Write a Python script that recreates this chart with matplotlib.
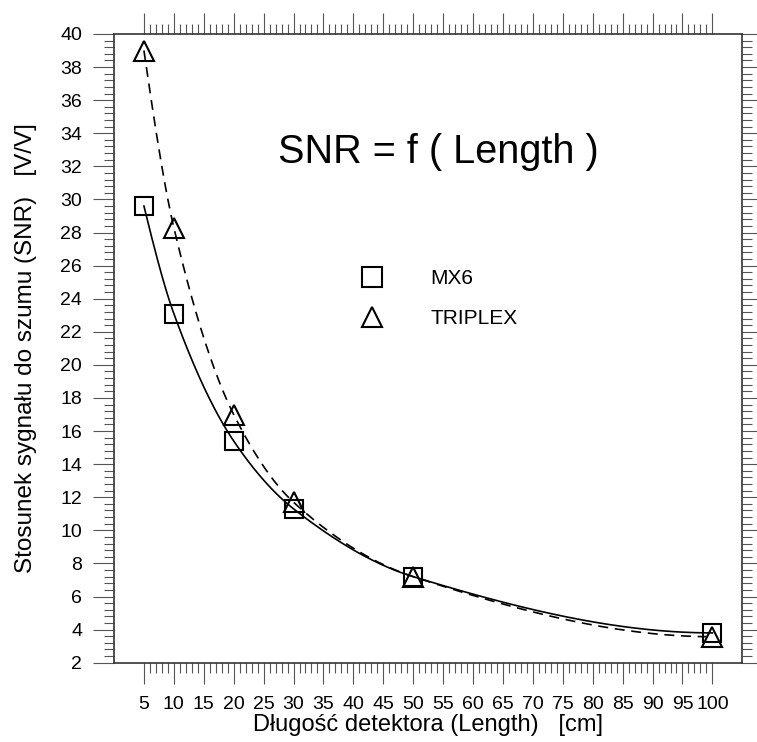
import numpy as np
import matplotlib
matplotlib.use("Agg")
import matplotlib.pyplot as plt
from matplotlib.lines import Line2D

plt.rcParams["font.family"] = ["Liberation Sans", "DejaVu Sans"]

# detector length [cm] and measured SNR [V/V]
length = [5, 10, 20, 30, 50, 100]
snr_mx6 = [29.6, 23.1, 15.4, 11.3, 7.2, 3.8]
snr_triplex = [39.0, 28.3, 17.0, 11.7, 7.2, 3.57]


def pchip(xk, yk, xs):
    """Monotone piecewise cubic Hermite curve (Fritsch-Carlson slopes)."""
    xk = np.asarray(xk, float)
    yk = np.asarray(yk, float)
    h = np.diff(xk)
    delta = np.diff(yk) / h
    n = len(xk)
    d = np.zeros(n)
    for k in range(1, n - 1):
        if delta[k - 1] * delta[k] > 0:
            w1 = 2 * h[k] + h[k - 1]
            w2 = h[k] + 2 * h[k - 1]
            d[k] = (w1 + w2) / (w1 / delta[k - 1] + w2 / delta[k])

    def end_slope(h0, h1, m0, m1):
        s = ((2 * h0 + h1) * m0 - h0 * m1) / (h0 + h1)
        if np.sign(s) != np.sign(m0):
            return 0.0
        if np.sign(m0) != np.sign(m1) and abs(s) > abs(3 * m0):
            return 3 * m0
        return s

    d[0] = end_slope(h[0], h[1], delta[0], delta[1])
    d[-1] = end_slope(h[-1], h[-2], delta[-1], delta[-2])

    idx = np.clip(np.searchsorted(xk, xs) - 1, 0, n - 2)
    t = (xs - xk[idx]) / h[idx]
    h00 = 2 * t ** 3 - 3 * t ** 2 + 1
    h10 = t ** 3 - 2 * t ** 2 + t
    h01 = -2 * t ** 3 + 3 * t ** 2
    h11 = t ** 3 - t ** 2
    return (h00 * yk[idx] + h10 * h[idx] * d[idx]
            + h01 * yk[idx + 1] + h11 * h[idx] * d[idx + 1])


xs = np.linspace(length[0], length[-1], 500)
curve_mx6 = pchip(length, snr_mx6, xs)
curve_triplex = pchip(length, snr_triplex, xs)

fig = plt.figure(figsize=(7.57, 7.42), dpi=100)
ax = fig.add_axes([0.1506, 0.1069, 0.83, 0.8473])

ax.plot(xs, curve_mx6, color="black", linewidth=1.2)
ax.plot(xs, curve_triplex, color="black", linewidth=1.2, linestyle=(0, (6, 4)))

sq_style = dict(linestyle="none", marker="s", markersize=13,
                markerfacecolor="none", markeredgecolor="black",
                markeredgewidth=1.5)
tri_style = dict(linestyle="none", marker="^", markersize=15,
                 markerfacecolor="none", markeredgecolor="black",
                 markeredgewidth=1.5)
ax.plot(length, snr_mx6, **sq_style)
ax.plot(length, snr_triplex, **tri_style)

ax.set_xlim(0, 105)
ax.set_ylim(2, 40)
ax.set_xticks(np.arange(5, 101, 5))
ax.set_xticks([v for v in range(5, 101) if v % 5], minor=True)
ax.set_yticks(np.arange(2, 41, 2))
ax.set_yticks(np.arange(2, 40.01, 0.4), minor=True)

ax.tick_params(which="both", direction="out", top=True, right=True,
               color="#555555", width=0.8, labelsize=14)
ax.tick_params(which="major", length=15)
ax.tick_params(which="minor", length=7.5)
ax.tick_params(axis="x", pad=9)
ax.tick_params(axis="y", pad=8)

for sp in ax.spines.values():
    sp.set_linewidth(1.2)
    sp.set_color("#333333")

ax.set_xlabel("Długość detektora (Length)   [cm]", fontsize=17, labelpad=1)
ax.set_ylabel("Stosunek sygnału do szumu (SNR)   [V/V]", fontsize=17.5,
              labelpad=17)

ax.text(0.517, 0.812, "SNR = f ( Length )", transform=ax.transAxes,
        fontsize=28.5, ha="center", va="center")

handles = [
    Line2D([], [], label="MX6", **{**sq_style, "markersize": 14.5}),
    Line2D([], [], label="TRIPLEX", **tri_style),
]
ax.legend(handles=handles, loc="center left", bbox_to_anchor=(0.377, 0.579),
          frameon=False, fontsize=15, handlelength=2.0, handletextpad=1.8,
          labelspacing=1.0, borderpad=0, borderaxespad=0)

fig.savefig("out.png", dpi=100)
